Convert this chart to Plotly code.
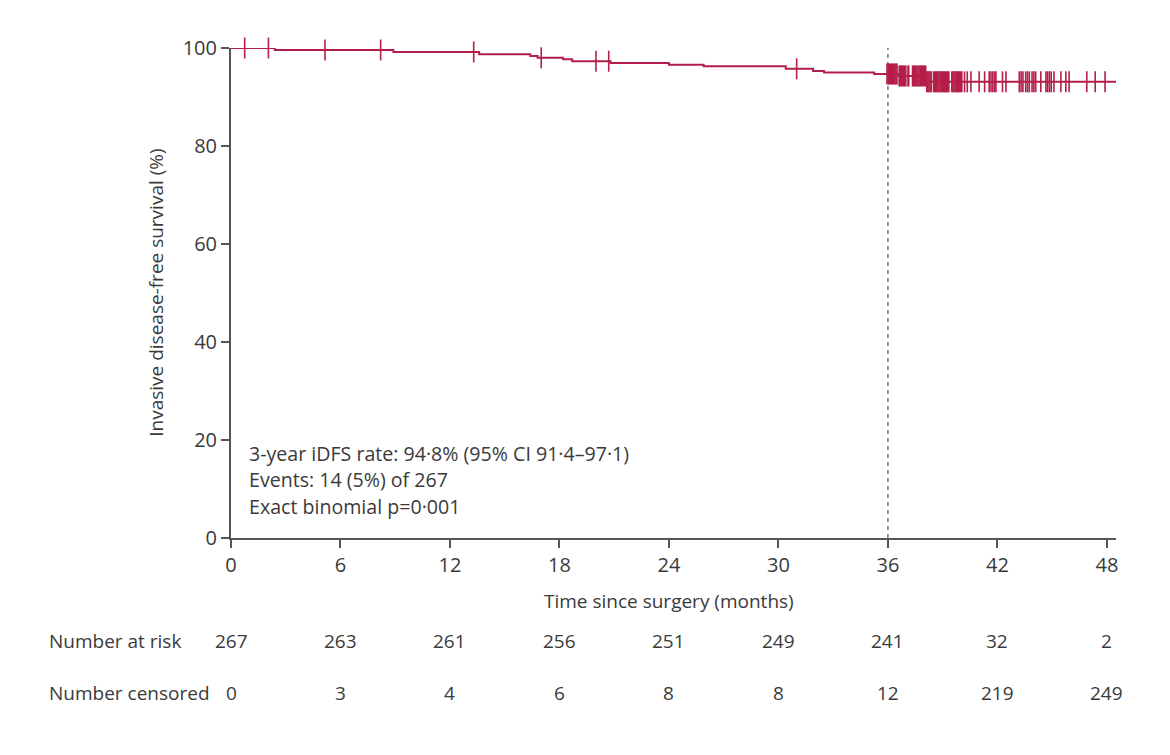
import numpy as np
import plotly.graph_objects as go

# ---- data ----
step_times = [0, 2.4, 8.9, 13.6, 16.4, 16.8, 18.2, 18.7, 20.8, 24.0, 25.9,
              30.4, 31.9, 32.5, 35.25, 36.6, 38.1, 48.5]
step_surv = [100, 99.6, 99.2, 98.7, 98.35, 98.0, 97.7, 97.3, 96.95, 96.6, 96.3,
             95.75, 95.3, 95.0, 94.7, 94.3, 93.1, 93.1]

censor_times = [
    0.75, 2.05, 5.15, 8.2, 13.3, 17.0, 20.0, 20.7, 31.0,
    35.95, 36.02, 36.08, 36.14, 36.2, 36.26, 36.32, 36.38, 36.44, 36.5,
    36.62, 36.68, 36.74, 36.8, 36.86, 36.92, 36.98,
    37.1, 37.14,
    37.35, 37.41, 37.47, 37.53, 37.59, 37.65, 37.71, 37.77, 37.83, 37.89, 37.95, 38.01, 38.07,
    38.13, 38.19, 38.25, 38.31, 38.37, 38.5, 38.56, 38.62, 38.68, 38.74, 38.8, 38.86,
    38.92, 38.98, 39.04, 39.1, 39.16, 39.22, 39.28, 39.34, 39.5, 39.56, 39.62, 39.68,
    39.74, 39.8, 39.86, 39.92, 39.98,
    40.05, 40.2, 40.35, 40.55, 41.0, 41.3,
    41.55, 41.65, 41.75, 41.85, 41.92,
    42.28, 42.47,
    43.2, 43.3, 43.4, 43.55, 43.65, 43.75, 43.9, 44.0, 44.1,
    44.38, 44.66, 44.75, 44.85, 44.95, 45.1,
    45.48, 45.75, 45.93, 46.9, 47.36, 47.9,
]

tick_months = [0, 6, 12, 18, 24, 30, 36, 42, 48]
number_at_risk = [267, 263, 261, 256, 251, 249, 241, 32, 2]
number_censored = [0, 3, 4, 6, 8, 8, 12, 219, 249]

annotation_lines = [
    "3-year iDFS rate: 94·8% (95% CI 91·4–97·1)",
    "Events: 14 (5%) of 267",
    "Exact binomial p=0·001",
]

# ---- styling ----
RED = "#B41E48"
TXT = "#3a3a3a"
AX = "#555555"
FONT = "Open Sans"
FS_TICK = 20
FS = 19

# survival level at each censor time (step lookup)
st = np.array(step_times)
sv = np.array(step_surv)
idx = np.searchsorted(st, np.array(censor_times), side="right") - 1
censor_surv = sv[idx]

fig = go.Figure()
fig.add_trace(go.Scatter(
    x=step_times, y=step_surv, mode="lines", line_shape="hv",
    line=dict(color=RED, width=2), hoverinfo="skip", showlegend=False,
))
fig.add_trace(go.Scatter(
    x=censor_times, y=censor_surv, mode="markers",
    marker=dict(symbol="line-ns", size=15, line=dict(color=RED, width=1.6)),
    cliponaxis=False, hoverinfo="skip", showlegend=False,
))

fig.add_shape(type="line", x0=36, x1=36, y0=0, y1=100.5, xref="x", yref="y",
              line=dict(color="#46698c", width=1.3, dash="4px,4px"), layer="below")

# text block inside plot
for i, t in enumerate(annotation_lines):
    fig.add_annotation(x=0.9, y=17.3 - i * 5.4, xref="x", yref="y", text=t,
                       showarrow=False, xanchor="left", yanchor="middle",
                       font=dict(family=FONT, size=19.6, color=TXT))

# axis titles
fig.add_annotation(x=24, y=-0.129, xref="x", yref="paper",
                   text="Time since surgery (months)", showarrow=False,
                   font=dict(family=FONT, size=FS, color=TXT), yanchor="middle")
fig.add_annotation(x=-0.085, y=0.5, xref="paper", yref="paper",
                   text="Invasive disease-free survival (%)", textangle=-90,
                   showarrow=False, font=dict(family=FONT, size=FS, color=TXT),
                   xanchor="center", yanchor="middle")

# risk table
ROW1 = -0.210
ROW2 = -0.316
fig.add_annotation(x=-0.2075, y=ROW1, xref="paper", yref="paper", text="Number at risk",
                   showarrow=False, xanchor="left", yanchor="middle",
                   font=dict(family=FONT, size=FS, color=TXT))
fig.add_annotation(x=-0.2075, y=ROW2, xref="paper", yref="paper", text="Number censored",
                   showarrow=False, xanchor="left", yanchor="middle",
                   font=dict(family=FONT, size=FS, color=TXT))
for m, a, c in zip(tick_months, number_at_risk, number_censored):
    fig.add_annotation(x=m, y=ROW1, xref="x", yref="paper", text=str(a),
                       showarrow=False, xanchor="center", yanchor="middle",
                       font=dict(family=FONT, size=FS, color=TXT))
    fig.add_annotation(x=m, y=ROW2, xref="x", yref="paper", text=str(c),
                       showarrow=False, xanchor="center", yanchor="middle",
                       font=dict(family=FONT, size=FS, color=TXT))

fig.update_xaxes(range=[0, 48.5], tickvals=tick_months, ticks="outside", ticklen=8,
                 tickwidth=1.6, tickcolor=AX, showline=True, linecolor=AX, linewidth=2,
                 showgrid=False, zeroline=False,
                 tickfont=dict(family=FONT, size=FS_TICK, color=TXT))
fig.update_yaxes(range=[0, 100], tickvals=[0, 20, 40, 60, 80, 100], ticks="outside",
                 ticklen=8, tickwidth=1.6, tickcolor=AX, showline=True, linecolor=AX,
                 linewidth=2, showgrid=False, zeroline=False,
                 tickfont=dict(family=FONT, size=FS_TICK, color=TXT))

fig.update_layout(width=1170, height=755, margin=dict(l=223, r=62, t=40, b=225),
                  plot_bgcolor="white", paper_bgcolor="white",
                  font=dict(family=FONT, color=TXT))

fig.write_html("out.html")
